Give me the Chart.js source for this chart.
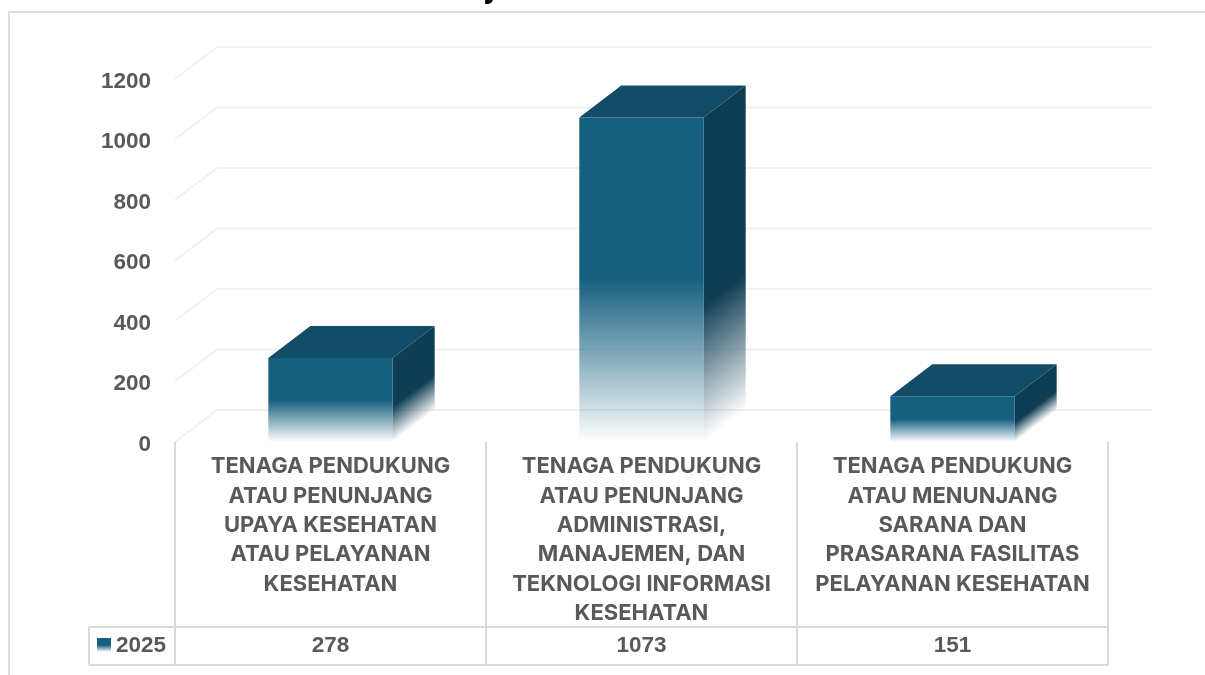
<!DOCTYPE html>
<html><head><meta charset="utf-8">
<script src="https://cdn.jsdelivr.net/npm/chart.js@4"></script>
<style>html,body{margin:0;padding:0;background:#fff;overflow:hidden}canvas{display:block}</style>
</head><body><canvas id="c" width="1205" height="675"></canvas>
<script>
const categories = [
  ["TENAGA PENDUKUNG","ATAU PENUNJANG","UPAYA KESEHATAN","ATAU PELAYANAN","KESEHATAN"],
  ["TENAGA PENDUKUNG","ATAU PENUNJANG","ADMINISTRASI,","MANAJEMEN, DAN","TEKNOLOGI INFORMASI","KESEHATAN"],
  ["TENAGA PENDUKUNG","ATAU MENUNJANG","SARANA DAN","PRASARANA FASILITAS","PELAYANAN KESEHATAN"]
];
const seriesName = "2025";
const values = [278, 1073, 151];
const yMax = 1200;
const yStep = 200;

const FRONT = "#16607F", TOP = "#124C66", SIDE = "#0F3E54";
const TXT = "#595959", LINE = "#D9D9D9", GRID = "#F1F1F1";
const DX = 42, DY = 32;
const numFont = "bold 22.5px 'Liberation Sans'";

function fade(ctx, y0, y1, col, solid) {
  const g = ctx.createLinearGradient(0, y0, 0, y1);
  g.addColorStop(0, col); g.addColorStop(solid, col);
  g.addColorStop(1, col + "00");
  return g;
}

const depth = {
  id: "depth",
  beforeDraw(chart) {
    const { ctx, chartArea: a, scales: { x, y } } = chart;
    ctx.save();
    // frame
    ctx.strokeStyle = "#DEDEDE"; ctx.lineWidth = 2;
    ctx.beginPath(); ctx.moveTo(9, 675); ctx.lineTo(9, 12); ctx.lineTo(1205, 12); ctx.stroke();
    // clipped title fragment
    ctx.fillStyle = "#000"; ctx.font = "bold 34px Inter"; ctx.textAlign = "left"; ctx.textBaseline = "alphabetic";
    ctx.fillText("j", 486, -3);
    // gridlines with wall perspective
    ctx.strokeStyle = GRID; ctx.lineWidth = 2;
    y.ticks.forEach(t => {
      const py = y.getPixelForValue(t.value);
      ctx.beginPath(); ctx.moveTo(a.left, py); ctx.lineTo(a.left + 42, py - DY); ctx.lineTo(a.right + 44, py - DY); ctx.stroke();
    });
    // table
    const rowTop = 627, rowBot = 665;
    ctx.strokeStyle = LINE;
    ctx.beginPath();
    const edges = [a.left];
    categories.forEach((_, i) => edges.push((x.getPixelForTick(i) + (i < categories.length - 1 ? x.getPixelForTick(i + 1) : 2 * x.getPixelForTick(i) - x.getPixelForTick(i - 1))) / 2));
    edges.forEach(ex => { ctx.moveTo(ex, a.bottom); ctx.lineTo(ex, rowBot); });
    ctx.moveTo(89, rowTop); ctx.lineTo(a.right, rowTop);
    ctx.moveTo(89, rowBot); ctx.lineTo(a.right, rowBot);
    ctx.moveTo(89, rowTop); ctx.lineTo(89, rowBot);
    ctx.stroke();
    ctx.restore();
  },
  beforeDatasetsDraw(chart) {
    const { ctx } = chart;
    chart.getDatasetMeta(0).data.forEach(b => {
      const l = b.x - b.width / 2, r = b.x + b.width / 2, t = b.y, base = b.base;
      ctx.save();
      // top face
      ctx.fillStyle = TOP;
      ctx.beginPath(); ctx.moveTo(l, t); ctx.lineTo(l + DX, t - DY); ctx.lineTo(r + DX, t - DY); ctx.lineTo(r, t); ctx.closePath(); ctx.fill();
      // side face: sheared so the fade follows the slanted lower edge
      ctx.transform(1, -DY / DX, 0, 1, r, 0);
      ctx.fillStyle = fade(ctx, t, base, SIDE, 0.58);
      ctx.fillRect(0, t, DX, base - t);
      ctx.restore();
    });
  },
  afterDraw(chart) {
    const { ctx, scales: { x } } = chart;
    ctx.save();
    ctx.fillStyle = TXT; ctx.font = numFont; ctx.textBaseline = "middle"; ctx.textAlign = "center";
    values.forEach((v, i) => ctx.fillText(String(v), x.getPixelForTick(i), 646));
    ctx.textAlign = "left";
    ctx.fillText(seriesName, 116, 646);
    ctx.fillStyle = fade(ctx, 638, 652, FRONT, 0.5);
    ctx.fillRect(97, 638, 14, 14);
    ctx.restore();
  }
};

new Chart(document.getElementById("c"), {
  type: "bar",
  data: {
    labels: categories,
    datasets: [{
      label: seriesName,
      data: values,
      barPercentage: 0.4,
      categoryPercentage: 1,
      borderWidth: 0,
      backgroundColor(c) {
        const s = c.chart.scales.y;
        if (!s || c.raw === undefined || !c.chart.chartArea) return FRONT;
        return fade(c.chart.ctx, s.getPixelForValue(c.raw), s.getPixelForValue(0), FRONT, 0.5);
      }
    }]
  },
  options: {
    responsive: false,
    animation: false,
    layout: { padding: { top: 79, right: 97, left: 0, bottom: 0 } },
    plugins: { legend: { display: false }, title: { display: false }, tooltip: { enabled: false } },
    scales: {
      x: {
        grid: { display: false, drawTicks: false },
        border: { display: false },
        afterFit(s) { s.height = 233; },
        ticks: {
          color: TXT, padding: 10, autoSkip: false, maxRotation: 0, minRotation: 0,
          font: { family: "Inter", weight: "bold", size: 22, lineHeight: 1.336 }
        }
      },
      y: {
        min: 0, max: yMax,
        grid: { display: false, drawTicks: false },
        border: { display: false },
        afterFit(s) { s.width = 175; },
        afterUpdate(s) {
          const orig = s._computeLabelItems;
          if (!orig || s._nudged) return;
          s._nudged = true;
          s._computeLabelItems = function (ca) {
            const items = orig.call(s, ca);
            items.forEach(i => { i.options.translation[1] += 2.5; });
            return items;
          };
        },
        ticks: {
          stepSize: yStep, color: TXT, padding: 24,
          callback: v => String(v),
          font: { family: "Liberation Sans", weight: "bold", size: 22.5 }
        }
      }
    }
  },
  plugins: [depth]
});
</script></body></html>
